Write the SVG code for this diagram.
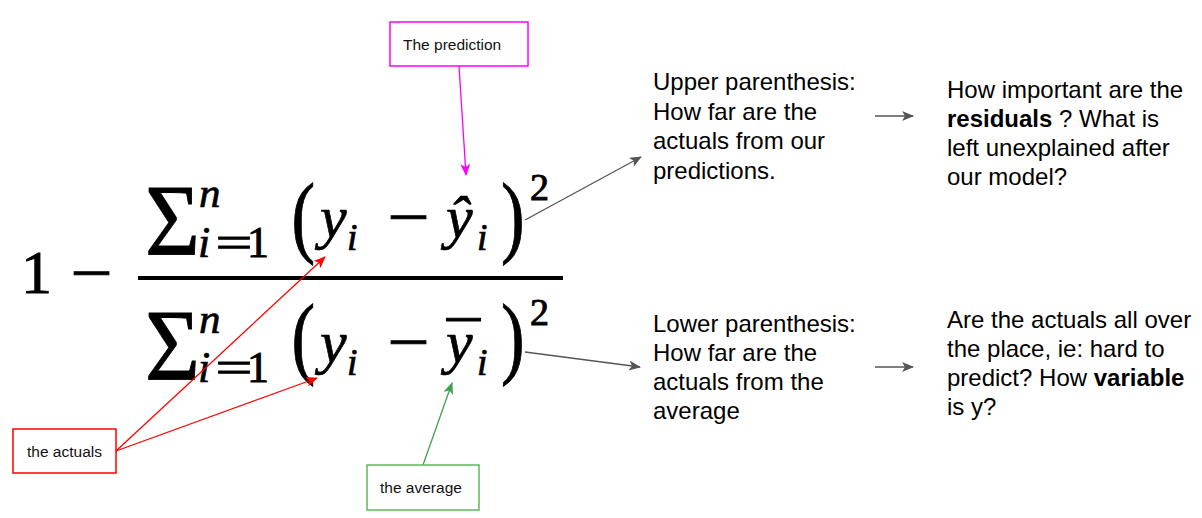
<svg xmlns="http://www.w3.org/2000/svg" width="1202" height="518" viewBox="0 0 1202 518">
<style>
.m{font-family:"Liberation Serif","Times New Roman",serif;fill:#000;stroke:#000;stroke-width:0.9px}
.mi{font-family:"Liberation Serif","Times New Roman",serif;font-style:italic;fill:#000;stroke:#000;stroke-width:0.7px}
.t{font-family:"Liberation Sans",Arial,sans-serif;font-size:24px;fill:#000}
.lbl{font-family:"Liberation Sans",Arial,sans-serif;font-size:15.5px;fill:#111}
.b{font-weight:bold}
.box{fill:#fff;stroke-width:1.5}
.c{fill:none;stroke-width:1.3}
</style>
<defs>
<marker id="am" markerUnits="userSpaceOnUse" markerWidth="12" markerHeight="10" refX="11" refY="5" orient="auto"><path d="M0,0 L12,5 L0,10 L3,5 Z" fill="#ff00ff"/></marker>
<marker id="ar" markerUnits="userSpaceOnUse" markerWidth="12" markerHeight="10" refX="11" refY="5" orient="auto"><path d="M0,0 L12,5 L0,10 L3,5 Z" fill="#ff0000"/></marker>
<marker id="ag" markerUnits="userSpaceOnUse" markerWidth="12" markerHeight="10" refX="11" refY="5" orient="auto"><path d="M0,0 L12,5 L0,10 L3,5 Z" fill="#3fa052"/></marker>
<marker id="ak" markerUnits="userSpaceOnUse" markerWidth="12" markerHeight="10" refX="11" refY="5" orient="auto"><path d="M0,0 L12,5 L0,10 L3,5 Z" fill="#555"/></marker>
</defs>

<g id="formula">
<text class="m" x="21" y="293" font-size="62">1</text>
<text class="m" x="70.5" y="293" font-size="60" textLength="42" lengthAdjust="spacingAndGlyphs">−</text>
<rect x="138" y="276" width="425" height="4" fill="#000"/>
<!-- numerator -->
<text class="m" x="145" y="255" font-size="101" textLength="55" lengthAdjust="spacingAndGlyphs">Σ</text>
<text class="mi" x="199" y="207" font-size="43">n</text>
<text class="mi" x="198" y="257" font-size="44">i</text>
<text class="m" x="215.5" y="257" font-size="44" textLength="37" lengthAdjust="spacingAndGlyphs">=</text>
<text class="m" x="247" y="257" font-size="44">1</text>
<text class="m" x="291.6" y="246" font-size="92" textLength="23.6" lengthAdjust="spacingAndGlyphs">(</text>
<text class="mi" x="320" y="237" font-size="60">y</text>
<text class="mi" x="347" y="250" font-size="38">i</text>
<text class="m" x="387.5" y="237" font-size="60" textLength="42" lengthAdjust="spacingAndGlyphs">−</text>
<text class="mi" x="446" y="237" font-size="60">ŷ</text>
<text class="mi" x="477" y="250" font-size="38">i</text>
<text class="m" x="501" y="246" font-size="92" textLength="23.6" lengthAdjust="spacingAndGlyphs">)</text>
<text class="m" x="530" y="200" font-size="38">2</text>
<!-- denominator -->
<text class="m" x="145" y="380" font-size="101" textLength="55" lengthAdjust="spacingAndGlyphs">Σ</text>
<text class="mi" x="199" y="333" font-size="43">n</text>
<text class="mi" x="198" y="382" font-size="44">i</text>
<text class="m" x="215.5" y="382" font-size="44" textLength="37" lengthAdjust="spacingAndGlyphs">=</text>
<text class="m" x="247" y="382" font-size="44">1</text>
<text class="m" x="291.6" y="367" font-size="92" textLength="23.6" lengthAdjust="spacingAndGlyphs">(</text>
<text class="mi" x="320" y="362" font-size="60">y</text>
<text class="mi" x="347" y="375" font-size="38">i</text>
<text class="m" x="387.5" y="362" font-size="60" textLength="42" lengthAdjust="spacingAndGlyphs">−</text>
<text class="m" x="447" y="363" font-size="60" textLength="33" lengthAdjust="spacingAndGlyphs">¯</text>
<text class="mi" x="446" y="362" font-size="60">y</text>
<text class="mi" x="477" y="375" font-size="38">i</text>
<text class="m" x="501" y="367" font-size="92" textLength="23.6" lengthAdjust="spacingAndGlyphs">)</text>
<text class="m" x="530" y="325" font-size="38">2</text>
</g>

<g id="connectors">
<line class="c" x1="459" y1="66" x2="466" y2="175" stroke="#ff00ff" marker-end="url(#am)"/>
<line class="c" x1="116" y1="451" x2="325" y2="257" stroke="#ff0000" marker-end="url(#ar)"/>
<line class="c" x1="116" y1="451" x2="317" y2="378" stroke="#ff0000" marker-end="url(#ar)"/>
<line class="c" x1="423" y1="465" x2="452" y2="383" stroke="#3fa052" marker-end="url(#ag)"/>
<line class="c" x1="525" y1="220" x2="641" y2="157" stroke="#555" marker-end="url(#ak)"/>
<line class="c" x1="525" y1="352" x2="640" y2="367" stroke="#555" marker-end="url(#ak)"/>
<line class="c" x1="875" y1="116" x2="913" y2="116" stroke="#555" marker-end="url(#ak)"/>
<line class="c" x1="875" y1="367" x2="913" y2="367" stroke="#555" marker-end="url(#ak)"/>
</g>

<g id="prediction">
<rect class="box" x="390" y="22" width="138" height="44" stroke="#ff00ff"/>
<text class="lbl" x="403" y="50">The prediction</text>
</g>
<g id="actuals">
<rect class="box" x="13" y="429" width="103" height="44" stroke="#ff0000"/>
<text class="lbl" x="27" y="457">the actuals</text>
</g>
<g id="average">
<rect class="box" x="367" y="465" width="112" height="45" stroke="#5cb85c"/>
<text class="lbl" x="380" y="493">the average</text>
</g>

<g id="upper">
<text class="t" x="653" y="90">Upper parenthesis:</text>
<text class="t" x="653" y="119.5">How far are the</text>
<text class="t" x="653" y="149">actuals from our</text>
<text class="t" x="653" y="178.5">predictions.</text>
</g>
<g id="lower">
<text class="t" x="653" y="332">Lower parenthesis:</text>
<text class="t" x="653" y="361">How far are the</text>
<text class="t" x="653" y="390">actuals from the</text>
<text class="t" x="653" y="419">average</text>
</g>
<g id="residuals">
<text class="t" x="947" y="98">How important are the</text>
<text class="t" x="947" y="127"><tspan class="b">residuals</tspan> ? What is</text>
<text class="t" x="947" y="156">left unexplained after</text>
<text class="t" x="947" y="185">our model?</text>
</g>
<g id="variable">
<text class="t" x="947" y="328">Are the actuals all over</text>
<text class="t" x="947" y="357">the place, ie: hard to</text>
<text class="t" x="947" y="386">predict? How <tspan class="b">variable</tspan></text>
<text class="t" x="947" y="415">is y?</text>
</g>
</svg>
